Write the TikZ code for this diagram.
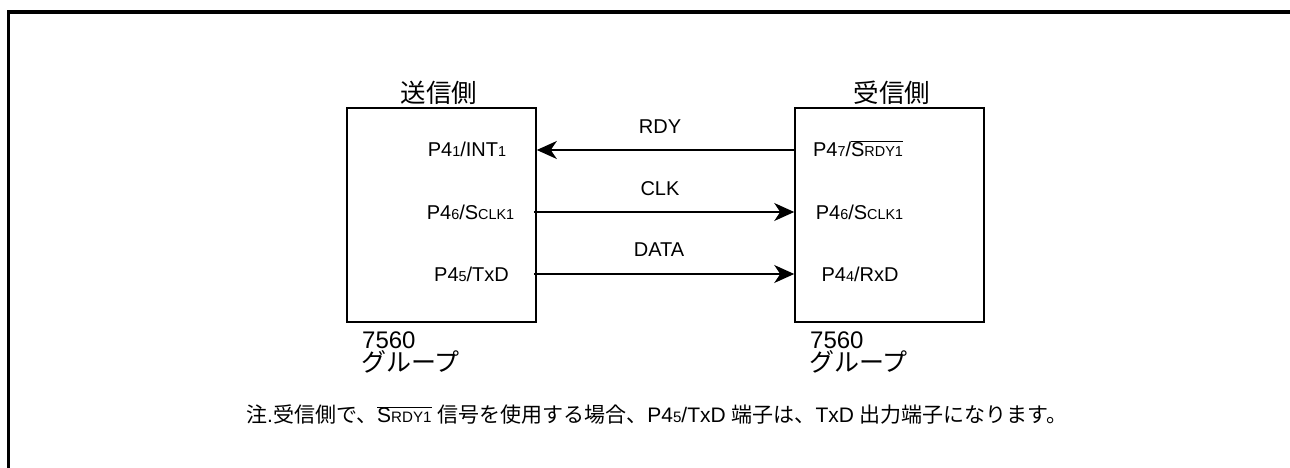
\documentclass[tikz,border=0pt]{standalone}
\usepackage{fontspec}
\setmainfont{Liberation Sans}
\newfontfamily\jp{Noto Sans CJK JP}
\usetikzlibrary{arrows.meta}
\newcommand\sm[1]{\scalebox{0.72}{#1}}
\begin{document}
\begin{tikzpicture}[x=1pt,y=-1pt,
  chip/.style={draw,line width=1.6pt,minimum width=189pt,minimum height=214pt,inner sep=0pt},
  pin/.style={font=\fontsize{20}{22}\selectfont,inner sep=0pt,anchor=base},
  sig/.style={font=\fontsize{20}{22}\selectfont,inner sep=0pt,anchor=base},
  ttl/.style={font=\jp\fontsize{25.5}{26}\selectfont,inner sep=0pt},
  grp/.style={font=\fontsize{24}{24}\selectfont,inner sep=0pt,anchor=base west,text depth=0pt},
  grpj/.style={font=\jp\fontsize{25}{25}\selectfont,inner sep=0pt,anchor=base west,text height=0.78em,text depth=0.08em},
  wire/.style={line width=1.3pt,-{Stealth[length=20pt,width=18pt,inset=6pt]}}]
\useasboundingbox (0,0) rectangle (1290,468);
\draw[line width=3.5pt] (8.5,470) -- (8.5,12) -- (1292,12);
\node[chip] (tx) at (441.5,215) {};
\node[chip] (rx) at (889.5,215) {};
\node[ttl] (ttx) at (439,93) {送信側};
\node[ttl] (trx) at (892,93) {受信側};
% pins
\node[pin] (p41) at (467,157) {P4\sm{1}/INT\sm{1}};
\node[pin] (p46t) at (470.5,219) {P4\sm{6}/S\sm{CLK1}};
\node[pin] (p45) at (471.5,281) {P4\sm{5}/TxD};
\node[pin] (p47) at (858,157) {P4\sm{7}/$\overline{\mbox{S\sm{RDY1}}}$};
\node[pin] (p46r) at (859.5,219) {P4\sm{6}/S\sm{CLK1}};
\node[pin] (p44) at (860,281) {P4\sm{4}/RxD};
% edge points
\coordinate (a1) at (tx.east |- 0,150);
\coordinate (b1) at (rx.west |- 0,150);
\coordinate (a2) at ([xshift=-3pt]tx.east |- 0,212);
\coordinate (b2) at (rx.west |- 0,212);
\coordinate (a3) at ([xshift=-3pt]tx.east |- 0,274);
\coordinate (b3) at (rx.west |- 0,274);
\draw[wire] (b1) -- (a1);
\draw[wire] (a2) -- (b2);
\draw[wire] (a3) -- (b3);
\node[sig] (rdy) at (660,134) {RDY};
\node[sig] (clk) at (660,195) {CLK};
\node[sig] (dat) at (659,256) {DATA};
% group labels
\node[grp] (g1a) at (362,348) {7560};
\node[grpj] (g1b) at (361,371) {グループ};
\node[grp] (g2a) at (810,348) {7560};
\node[grpj] (g2b) at (809,371) {グループ};
% note
\node[font=\fontsize{21}{24}\selectfont,inner sep=0pt] (note) at (657,415)
 {{\jp 注}.{\jp 受信側で、}$\overline{\mbox{S\sm{RDY1}}}$ {\jp 信号を使用する場合、}P4\sm{5}/TxD {\jp 端子は、}TxD {\jp 出力端子になります。}};
\end{tikzpicture}
\end{document}
